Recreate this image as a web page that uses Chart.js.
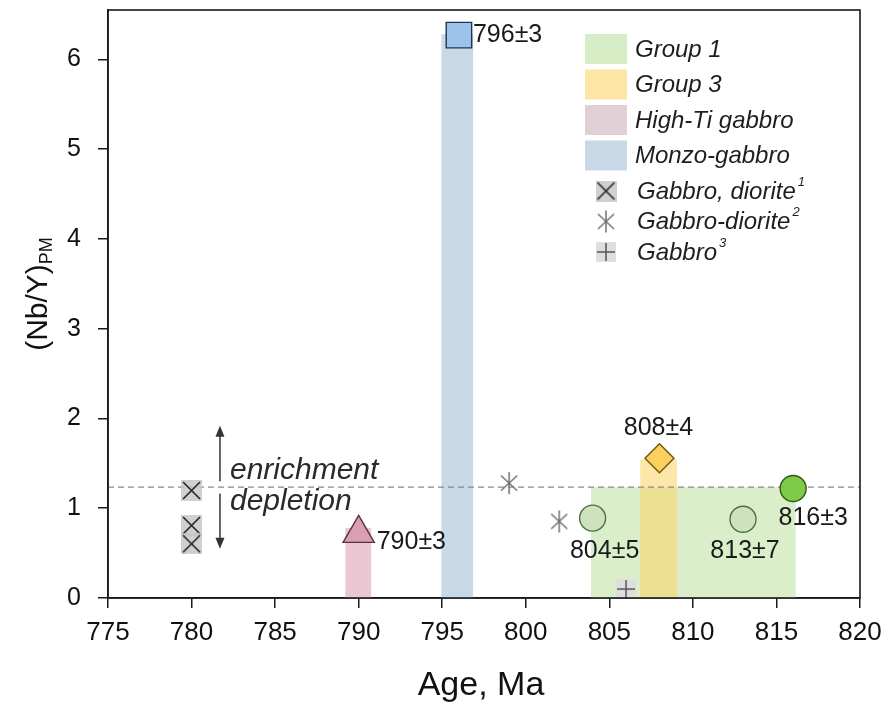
<!DOCTYPE html>
<html>
<head>
<meta charset="utf-8">
<script src="https://cdn.jsdelivr.net/npm/chart.js@4.4.0/dist/chart.umd.min.js"></script>
<style>
	html, body { margin: 0; padding: 0; background: #fff; }
	#wrap { width: 883px; height: 703px; position: relative; }
</style>
</head>
<body>
<div id="wrap"><canvas id="chart-age"></canvas></div>
<script>
// age ranges shown as shaded columns: [from, to, top value]
const group1Range = [803.9, 816.15, 1.235];
const group3Range = [806.85, 809.05, 1.545];
const highTiRange = [789.2, 790.75, 0.78];
const monzoRange = [794.95, 796.85, 6.28];
const enrichLevel = 1.235;

// dated samples
const group1Ages = [804, 813, 816];
const group1Values = [0.89, 0.877, 1.22];
const group1Labels = ['804±5', '813±7', '816±3'];
const group3Ages = [808];
const group3Values = [1.557];
const group3Labels = ['808±4'];
const highTiAges = [790];
const highTiValues = [0.72];
const highTiLabels = ['790±3'];
const monzoAges = [796];
const monzoValues = [6.27];
const monzoLabels = ['796±3'];

// literature data
const gabbroDioriteAges = [780, 780, 780];
const gabbroDioriteValues = [1.198, 0.808, 0.604];
const gabbroDiorite2Ages = [799, 802];
const gabbroDiorite2Values = [1.28, 0.853];
const gabbroAges = [806];
const gabbroValues = [0.1];

// enrichment / depletion arrows
const arrowAge = 781.7;
const enrichArrow = [1.30, 1.92];
const depleteArrow = [1.165, 0.55];

const xTicks = [775, 780, 785, 790, 795, 800, 805, 810, 815, 820];
const yTicks = [0, 1, 2, 3, 4, 5, 6];

const FONT = "'Liberation Sans', Arial, sans-serif";

function makeIcon(size, bg, draw) {
	let c = document.createElement('canvas');
	c.width = size; c.height = size;
	let g = c.getContext('2d');
	if (bg) { g.fillStyle = bg; g.fillRect(0, 0, size, size); }
	draw(g, size);
	return c;
}
const xIcon = makeIcon(21, 'rgba(200,200,200,0.85)', function(g, s) {
	g.strokeStyle = '#222'; g.lineWidth = 1.6;
	g.beginPath(); g.moveTo(2, 2); g.lineTo(s - 2, s - 2); g.moveTo(s - 2, 2); g.lineTo(2, s - 2); g.stroke();
});
const starIcon = makeIcon(24, null, function(g, s) {
	g.strokeStyle = '#707070'; g.lineWidth = 1.5;
	let c = s / 2, r = s / 2 - 1;
	g.beginPath();
	g.moveTo(c, c - r); g.lineTo(c, c + r);
	for (let a of [Math.PI / 4.2, -Math.PI / 4.2]) {
		g.moveTo(c - r * Math.cos(a), c - r * Math.sin(a));
		g.lineTo(c + r * Math.cos(a), c + r * Math.sin(a));
	}
	g.stroke();
});
const plusIcon = makeIcon(20, '#dedede', function(g, s) {
	g.strokeStyle = '#555'; g.lineWidth = 1.5;
	g.beginPath(); g.moveTo(s / 2, 1); g.lineTo(s / 2, s - 1); g.moveTo(1, s / 2); g.lineTo(s - 1, s / 2); g.stroke();
});

function pts(xs, ys) {
	return xs.map((x, i) => ({x: x, y: ys[i]}));
}

const legendItems = [
	{label: 'Group 1', color: '#d6edc6'},
	{label: 'Group 3', color: '#fde6a5'},
	{label: 'High-Ti gabbro', color: '#dfd0d5'},
	{label: 'Monzo-gabbro', color: '#c8d8e7'},
	{label: 'Gabbro, diorite', icon: xIcon, sup: '1'},
	{label: 'Gabbro-diorite', icon: starIcon, sup: '2'},
	{label: 'Gabbro', icon: plusIcon, sup: '3'}
];

const rangesPlugin = {
	id: 'ranges',
	beforeDatasetsDraw(chart) {
		let ctx = chart.ctx, x = chart.scales.x, y = chart.scales.y;
		let rect = function(r, color) {
			let x0 = x.getPixelForValue(r[0]), x1 = x.getPixelForValue(r[1]);
			let y0 = y.getPixelForValue(0), y1 = y.getPixelForValue(r[2]);
			ctx.fillStyle = color;
			ctx.fillRect(x0, y1, x1 - x0, y0 - y1);
		};
		ctx.save();
		rect(group1Range, '#d9eec9');
		rect(highTiRange, '#eac7d3');
		rect(monzoRange, '#c9d9e7');
		rect(group3Range, 'rgba(250,215,115,0.62)');
		// enrichment level
		ctx.strokeStyle = '#8a8a8a';
		ctx.lineWidth = 1.3;
		ctx.setLineDash([6, 4]);
		let ly = y.getPixelForValue(enrichLevel);
		ctx.beginPath();
		ctx.moveTo(chart.chartArea.left, ly);
		ctx.lineTo(chart.chartArea.right, ly);
		ctx.stroke();
		ctx.restore();
	}
};

function arrow(ctx, x, yFrom, yTo) {
	let dir = yTo < yFrom ? -1 : 1;
	ctx.beginPath();
	ctx.moveTo(x, yFrom);
	ctx.lineTo(x, yTo - dir * 8);
	ctx.stroke();
	ctx.beginPath();
	ctx.moveTo(x, yTo);
	ctx.lineTo(x - 4.5, yTo - dir * 11);
	ctx.lineTo(x + 4.5, yTo - dir * 11);
	ctx.closePath();
	ctx.fill();
}

const extrasPlugin = {
	id: 'extras',
	afterDraw(chart) {
		let ctx = chart.ctx, x = chart.scales.x, y = chart.scales.y, a = chart.chartArea;
		ctx.save();

		// age labels
		ctx.fillStyle = '#1a1a1a';
		ctx.font = '25px ' + FONT;
		ctx.textBaseline = 'middle';
		let put = function(ages, vals, labels, dx, dy, align) {
			ctx.textAlign = align;
			ages.forEach((age, i) => {
				ctx.fillText(labels[i], x.getPixelForValue(age) + dx[i], y.getPixelForValue(vals[i]) + dy[i]);
			});
		};
		put(monzoAges, monzoValues, monzoLabels, [14], [0], 'left');
		put(highTiAges, highTiValues, highTiLabels, [18], [9], 'left');
		put(group3Ages, group3Values, group3Labels, [-1], [-30], 'center');
		put(group1Ages, group1Values, group1Labels, [12, 2, 20], [33, 32, 30], 'center');

		// arrows and text
		ctx.strokeStyle = '#333';
		ctx.fillStyle = '#333';
		ctx.lineWidth = 1.5;
		let ax = x.getPixelForValue(arrowAge);
		arrow(ctx, ax, y.getPixelForValue(enrichArrow[0]), y.getPixelForValue(enrichArrow[1]));
		arrow(ctx, ax, y.getPixelForValue(depleteArrow[0]), y.getPixelForValue(depleteArrow[1]));
		ctx.fillStyle = '#2a2a2a';
		ctx.font = 'italic 30px ' + FONT;
		ctx.textAlign = 'left';
		ctx.textBaseline = 'alphabetic';
		ctx.fillText('enrichment', ax + 10, y.getPixelForValue(enrichLevel) - 8);
		ctx.fillText('depletion', ax + 10, y.getPixelForValue(enrichLevel) + 23);

		// legend
		legendItems.forEach((item, i) => {
			let rowY = i < 4 ? 49 + i * 35.5 : 191 + (i - 4) * 30.5;
			if (item.color) {
				ctx.fillStyle = item.color;
				ctx.fillRect(585, rowY - 15, 42, 30);
			} else {
				ctx.drawImage(item.icon, 606 - item.icon.width / 2, rowY - item.icon.height / 2);
			}
			ctx.fillStyle = '#1e1e1e';
			ctx.font = 'italic 24px ' + FONT;
			ctx.textBaseline = 'middle';
			ctx.textAlign = 'left';
			let tx = i < 4 ? 635 : 637;
			ctx.fillText(item.label, tx, rowY + 1);
			if (item.sup) {
				let w = ctx.measureText(item.label).width;
				ctx.font = 'italic 13px ' + FONT;
				ctx.fillText(item.sup, tx + w + 2, rowY - 9);
			}
		});

		// axis titles
		ctx.fillStyle = '#111';
		ctx.textBaseline = 'alphabetic';
		ctx.font = '34px ' + FONT;
		ctx.textAlign = 'center';
		ctx.fillText('Age, Ma', (a.left + a.right) / 2 - 3, 695);

		ctx.translate(47, 294);
		ctx.rotate(-Math.PI / 2);
		ctx.font = '30px ' + FONT;
		let main = '(Nb/Y)';
		let mw = ctx.measureText(main).width;
		ctx.font = '18px ' + FONT;
		let sw = ctx.measureText('PM').width;
		let start = -(mw + sw) / 2;
		ctx.font = '30px ' + FONT;
		ctx.textAlign = 'left';
		ctx.fillText(main, start, 0);
		ctx.font = '18px ' + FONT;
		ctx.fillText('PM', start + mw, 5);
		ctx.restore();

		// frame
		ctx.save();
		ctx.strokeStyle = '#1a1a1a';
		ctx.lineWidth = 1.6;
		ctx.strokeRect(a.left, a.top, a.right - a.left, a.bottom - a.top);
		ctx.restore();
	}
};

let ctx = document.getElementById('chart-age');
let chart = new Chart(ctx, {
	type: 'scatter',
	data: {
		datasets: [
			{
				label: 'Group 1',
				data: pts(group1Ages, group1Values),
				pointStyle: 'circle',
				pointRadius: 13,
				backgroundColor: ['#cde3bd', '#cde3bd', '#7dcb46'],
				borderColor: ['#4f6e44', '#4f6e44', '#2f5a1a'],
				borderWidth: 1.4
			},
			{
				label: 'Group 3',
				data: pts(group3Ages, group3Values),
				pointStyle: 'rectRot',
				pointRadius: 14.5,
				backgroundColor: '#fbd15e',
				borderColor: '#6f5510',
				borderWidth: 1.4
			},
			{
				label: 'High-Ti gabbro',
				data: pts(highTiAges, highTiValues),
				pointStyle: 'triangle',
				pointRadius: 18,
				backgroundColor: '#d99fb3',
				borderColor: '#5a3040',
				borderWidth: 1.4
			},
			{
				label: 'Monzo-gabbro',
				data: pts(monzoAges, monzoValues),
				pointStyle: 'rect',
				pointRadius: 18,
				backgroundColor: '#9dc3ea',
				borderColor: '#1e3550',
				borderWidth: 1.4
			},
			{
				label: 'Gabbro, diorite',
				data: pts(gabbroDioriteAges, gabbroDioriteValues),
				pointStyle: xIcon
			},
			{
				label: 'Gabbro-diorite',
				data: pts(gabbroDiorite2Ages, gabbroDiorite2Values),
				pointStyle: starIcon
			},
			{
				label: 'Gabbro',
				data: pts(gabbroAges, gabbroValues),
				pointStyle: plusIcon
			}
		]
	},
	options: {
		responsive: true,
		maintainAspectRatio: false,
		animation: false,
		events: [],
		layout: { autoPadding: false, padding: { top: 10, right: 23, left: 0, bottom: 0 } },
		plugins: { legend: { display: false }, tooltip: { enabled: false } },
		scales: {
			x: {
				type: 'linear',
				min: 775,
				max: 820,
				afterFit: s => { s.height = 105; s.paddingLeft = 0; s.paddingRight = 0; },
				afterBuildTicks: s => { s.ticks = xTicks.map(v => ({value: v})); },
				ticks: { font: { family: FONT, size: 26 }, color: '#111', padding: 9, maxRotation: 0 },
				grid: { drawOnChartArea: false, tickLength: 10, color: '#1a1a1a', lineWidth: 1.5 },
				border: { display: true, color: '#1a1a1a', width: 1.6 }
			},
			y: {
				min: 0,
				max: 6.55,
				afterFit: s => { s.width = 108; s.paddingTop = 0; s.paddingBottom = 0; },
				afterBuildTicks: s => { s.ticks = yTicks.map(v => ({value: v})); },
				ticks: { font: { family: FONT, size: 25 }, color: '#111', padding: 17 },
				grid: { drawOnChartArea: false, tickLength: 10, color: '#1a1a1a', lineWidth: 1.5 },
				border: { display: true, color: '#1a1a1a', width: 1.6 }
			}
		}
	},
	plugins: [rangesPlugin, extrasPlugin]
});
</script>
</body>
</html>
